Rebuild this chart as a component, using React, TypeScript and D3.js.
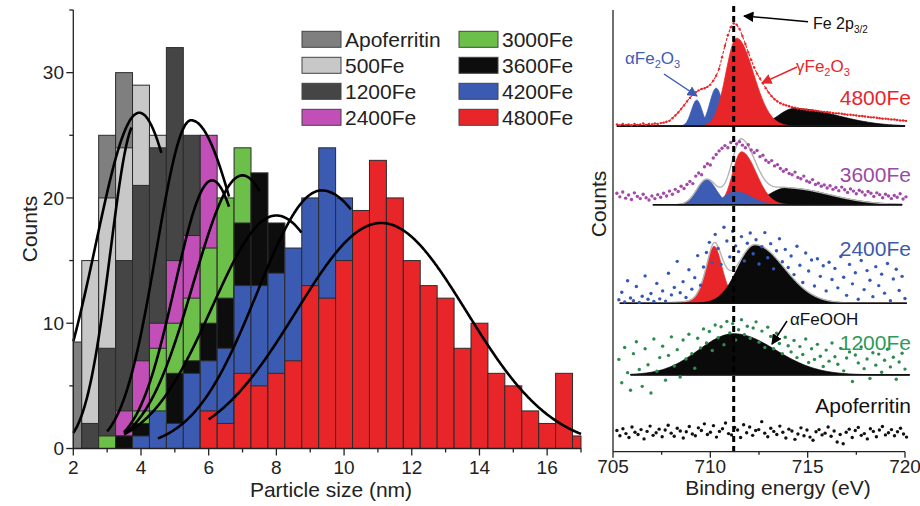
import React from "react";
import * as d3 from "d3";

// ---------------- Histogram data (left panel) ----------------
const binCenters = [2, 2.5, 3, 3.5, 4, 4.5, 5, 5.5, 6, 6.5, 7, 7.5, 8, 8.5, 9, 9.5, 10, 10.5, 11, 11.5, 12, 12.5, 13, 13.5, 14, 14.5, 15, 15.5, 16, 16.5, 17];
const seriesNames = ["Apoferritin", "500Fe", "1200Fe", "2400Fe", "3000Fe", "3600Fe", "4200Fe", "4800Fe"];
const countsApoferritin = [8.5, 12, 25, 30, 26, 18, 10, 4, 0, 0, 0, 0, 0, 0, 0, 0, 0, 0, 0, 0, 0, 0, 0, 0, 0, 0, 0, 0, 0, 0, 0];
const counts500Fe = [0, 15, 20, 24, 29, 25, 14, 6, 2, 0, 0, 0, 0, 0, 0, 0, 0, 0, 0, 0, 0, 0, 0, 0, 0, 0, 0, 0, 0, 0, 0];
const counts1200Fe = [0, 2, 8, 15, 21, 24, 32, 25, 18, 10, 4, 0, 0, 0, 0, 0, 0, 0, 0, 0, 0, 0, 0, 0, 0, 0, 0, 0, 0, 0, 0];
const counts2400Fe = [0, 0, 0, 3, 7, 10, 15, 17, 25, 14, 8, 3, 0, 0, 0, 0, 0, 0, 0, 0, 0, 0, 0, 0, 0, 0, 0, 0, 0, 0, 0];
const counts3000Fe = [0, 0, 1, 1, 3, 8, 10, 12, 16, 20, 24, 15, 8, 3, 0, 0, 0, 0, 0, 0, 0, 0, 0, 0, 0, 0, 0, 0, 0, 0, 0];
const counts3600Fe = [0, 0, 0, 1, 2, 2, 6, 7, 10, 12, 18, 22, 18, 12, 7, 3, 0, 0, 0, 0, 0, 0, 0, 0, 0, 0, 0, 0, 0, 0, 0];
const counts4200Fe = [0, 0, 0, 0, 1, 3, 2, 6, 7, 8, 13, 13, 14, 16, 20, 24, 20, 14, 8, 4, 2, 0, 0, 0, 0, 0, 0, 0, 0, 0, 0];
const counts4800Fe = [0, 0, 0, 0, 0, 0, 0, 0, 3, 2, 6, 5, 6, 7, 13, 12, 15, 19, 23, 20, 15, 13, 12, 8, 10, 6, 5, 3, 2, 6, 1];
const allCounts = [countsApoferritin, counts500Fe, counts1200Fe, counts2400Fe, counts3000Fe, counts3600Fe, counts4200Fe, counts4800Fe];

// Gaussian fits (left / right half-widths)
const fitCenter = [3.95, 3.85, 5.48, 6.1, 7.0, 8.0, 9.34, 11.1];
const fitWidthL = [1.29, 0.75, 1.02, 1.1, 1.45, 1.9, 1.9, 2.52];
const fitWidthR = [1.29, 0.75, 1.54, 1.1, 1.45, 1.9, 2.2, 2.52];
const fitPeak = [26.8, 26.0, 26.2, 21.4, 21.8, 18.6, 20.6, 18.0];
const fitFrom = [2.0, 2.0, 3.0, 3.5, 3.5, 3.5, 4.5, 6.0];
const fitTo = [4.6, 3.72, 6.6, 6.6, 7.5, 8.75, 10.2, 17.0];

const xTicksLeft = [2, 4, 6, 8, 10, 12, 14, 16];
const yTicksLeft = [0, 10, 20, 30];

// ---------------- XPS data (right panel) ----------------
const spectrumNames = ["4800Fe", "3600Fe", "2400Fe", "1200Fe", "Apoferritin"];
const spectrumOffsets = [73.7, 55.9, 33.6, 17.4, 0];
const spectrumRanges = [[705.2, 720.0], [707.05, 719.85], [705.35, 720.1], [705.9, 720.25]];

const comp4800 = [
  { phase: "alpha", center: 709.3, height: 5.9, sigmaL: 0.27, sigmaR: 0.27 },
  { phase: "alpha", center: 710.3, height: 8.6, sigmaL: 0.33, sigmaR: 0.33 },
  { phase: "other", center: 714.3, height: 4.0, sigmaL: 0.8, sigmaR: 2.2 },
  { phase: "gamma", center: 711.35, height: 19.9, sigmaL: 0.55, sigmaR: 0.86 },
];
const comp3600 = [
  { phase: "other", center: 713.9, height: 3.8, sigmaL: 0.9, sigmaR: 2.2 },
  { phase: "gamma", center: 711.6, height: 12.0, sigmaL: 0.45, sigmaR: 0.75 },
  { phase: "alpha", center: 709.8, height: 5.7, sigmaL: 0.5, sigmaR: 0.5 },
  { phase: "alpha", center: 711.3, height: 3.0, sigmaL: 0.6, sigmaR: 0.8 },
];
const comp2400 = [
  { phase: "gamma", center: 710.2, height: 12.9, sigmaL: 0.45, sigmaR: 0.45, eta: 0.35, gamma: 0.45 },
  { phase: "other", center: 712.3, height: 13.1, sigmaL: 0.9, sigmaR: 1.5 },
];
const comp1200 = [
  { phase: "other", center: 711.2, height: 9.3, sigmaL: 1.8, sigmaR: 2.15 },
];
const allComponents = [comp4800, comp3600, comp2400, comp1200];

const dotStep = 0.15;
const dots4800Start = 705.2;
const dots4800 = [0.4, 0.2, 0.5, 0.3, 0.4, 0.2, 0.5, 0.3, 0.4, 0.6, 0.3, 0.5, 0.4, 0.6, 0.5, 0.7, 0.8, 1.0,
  1.2, 1.8, 2.4, 3.1, 3.9, 4.7, 5.6, 6.4, 7.1, 7.7, 8.1, 8.4, 8.6, 8.9, 9.4, 10.3, 11.4, 13.0, 15.6, 18.2,
  20.6, 22.4, 23.3, 23.0, 22.0, 20.4, 18.6, 16.7, 15.0, 13.3, 11.9, 10.8, 9.7, 8.6, 7.6, 6.8, 6.1, 5.6, 5.2, 4.9,
  4.7, 4.5, 4.3, 4.2, 4.0, 3.9, 3.8,
  3.7, 3.6, 3.6, 3.5, 3.4, 3.3, 3.2, 3.2, 3.1, 3.0, 2.9, 2.9, 2.8, 2.7, 2.6, 2.6, 2.5, 2.4, 2.3, 2.3, 2.2, 2.1, 2.0, 2.0, 1.9, 1.8, 1.7, 1.7, 1.6, 1.5, 1.5, 1.4, 1.3, 1.3, 1.2];
const dots3600Start = 705.2;
const dots3600 = [2.6, 1.8, 2.9, 1.5, 2.2, 1.2, 2.7, 1.9, 1.4, 2.4, 1.6, 1.1, 2.0,
  1.4, 2.3, 1.7, 2.6, 2.0, 3.1, 2.4, 3.5, 3.0, 4.2, 3.7, 4.6,
  5.3, 4.8, 6.5, 7.2, 6.8, 8.6, 9.3, 9.0, 10.6, 11.4, 12.2,
  12.8, 13.4, 12.9, 14.1, 14.6, 13.8, 14.3, 13.5, 12.9, 13.6, 12.4,
  11.8, 12.3, 10.9, 11.2, 10.1, 9.6, 10.0, 8.8, 9.1, 8.2, 7.6, 8.0,
  7.1, 6.8, 7.4, 6.2, 5.9, 6.5, 5.4, 5.1, 5.7, 4.6, 4.9, 4.2, 4.5, 3.8,
  4.3, 3.5, 3.9, 3.2, 4.0, 3.4, 2.8, 3.6, 3.1, 2.5, 3.3, 2.9, 2.2, 3.0, 2.6, 1.9, 2.7, 2.3, 1.6, 2.4, 2.0, 1.4, 2.1, 1.7, 2.5, 1.3, 1.8];
const dots2400Start = 705.3;
const dots2400 = [0.8, 2.5, 0.3, 5.1, 1.2, 0.6, 3.8, 0.2, 1.6, 6.2, 0.9, 2.2, 0.4, 4.5, 1.0,
  2.8, 0.5, 6.8, 1.9, 3.6, 9.5, 2.4, 4.9, 1.3, 7.6, 3.2, 5.8, 10.8, 4.1, 8.2,
  11.5, 13.8, 9.2, 15.6, 12.4, 8.8, 17.2, 14.1, 10.5, 16.3, 13.0, 11.7, 15.1, 9.6,
  13.6, 15.9, 11.2, 14.4, 8.9, 12.8, 16.0, 10.3, 13.5, 7.8, 11.9, 14.6, 9.4, 12.2, 8.1,
  10.7, 6.5, 12.9, 8.6, 4.7, 11.4, 7.3, 9.8, 3.9, 10.1, 6.1, 8.5, 2.8, 9.3, 5.4,
  7.9, 3.5, 10.6, 5.9, 1.8, 8.8, 4.4, 6.9, 0.9, 9.7, 3.1, 7.4, 5.2, 1.5, 8.3, 4.0, 6.6, 2.3, 9.0, 0.6, 5.5, 7.7, 2.9, 6.1, 1.1];
const dots1200Start = 705.3;
const dots1200 = [3.5, -1.8, 6.2, 0.5, -3.5, 4.8, 7.5, 1.2, -2.6, 5.9, 2.3, -4.1, 8.1, 0.8, 3.9,
  6.5, -1.2, 4.4, 8.6, 2.0, 5.7, -0.5, 7.9, 3.6, 9.2, 4.8, 1.5, 8.3, 6.1, 10.4,
  7.2, 9.8, 5.5, 11.3, 8.4, 10.9, 6.8, 12.1, 9.5, 11.6, 7.9, 10.2, 12.5, 9.1,
  11.0, 8.3, 10.6, 12.0, 7.4, 9.9, 6.2, 10.8, 8.7, 5.9, 9.4, 7.1, 4.8, 8.5, 6.6,
  5.2, 7.8, 3.9, 6.4, 4.6, 8.1, 2.8, 5.9, 3.5, 6.9, 4.2, 1.9, 5.6, 3.1, 7.2,
  4.1, 2.4, 6.0, 0.9, 3.8, 5.2, -1.5, 4.5, 2.7, 6.3, 1.4, 3.6, -0.8, 5.0, 2.2, 4.7, 0.6, 3.3, 5.8, 1.8, 4.0, -1.0, 2.9, 4.9, 1.3];
const dotsApoStart = 705.2;
const dotsApoStep = 0.155;
const dotsApo = [4.8, 3.6, 5.2, 4.1, 3.2, 5.6, 4.4, 3.9, 5.0, 2.9, 4.6, 5.8, 3.7, 4.3, 5.1, 3.4, 4.9, 6.0, 4.2, 3.5,
  5.3, 4.7, 3.1, 4.5, 5.7, 4.0, 3.6, 5.4, 4.8, 6.3, 3.9, 4.4, 5.9, 3.3, 4.6, 5.2, 6.5, 4.1, 3.8, 5.5,
  4.9, 3.2, 6.1, 4.3, 5.6, 3.7, 4.8, 5.0, 6.8, 4.2, 3.4, 5.3, 4.6, 3.9, 5.8, 4.4, 3.1, 5.1, 4.7, 2.8,
  4.0, 5.4, 3.6, 4.9, 3.3, 2.6, 4.5, 5.0, 3.8, 4.2, 5.6, 3.5, 4.7, 2.2, 3.9, 1.8, 4.4, 5.1, 3.2, 4.8,
  5.5, 3.7, 4.1, 2.9, 5.2, 4.6, 3.4, 4.9, 5.7, 3.8, 4.3, 5.0, 3.6, 4.5, 5.3, 4.0, 3.3];

const fe2pEnergy = 711.2;
const xTicksRight = [705, 710, 715, 720];

// ---------------- styles ----------------
const FONT = "'Liberation Sans', Arial, Helvetica, sans-serif";
const seriesColors = ["#7f7f7f", "#c8c8c8", "#454545", "#c24fb8", "#6cc04a", "#0d0d0d", "#3a5bb1", "#e8262a"];
const phaseColors: Record<string, string> = { alpha: "#3d5cb4", gamma: "#e8262a", other: "#0a0a0a" };
const labelColors = ["#e8262a", "#9a4aa6", "#3d59a8", "#2f9a58", "#111"];
const dotColors = ["#e8262a", "#a24aa8", "#3558b8", "#2e8b4f", "#111"];

function compValue(e: number, c: any) {
  const d = e - c.center;
  const s = d < 0 ? c.sigmaL : c.sigmaR;
  const g = Math.exp(-(d * d) / (2 * s * s));
  const eta = c.eta || 0;
  const l = eta ? 1 / (1 + (d / c.gamma) ** 2) : 0;
  return c.height * (eta * l + (1 - eta) * g);
}

export default function App() {
  const xL = d3.scaleLinear().domain([2, 17]).range([73.3, 581]);
  const yL = d3.scaleLinear().domain([0, 35]).range([448.5, 10]);
  const xR = d3.scaleLinear().domain([705, 720]).range([613, 905]);
  const yR = d3.scaleLinear().domain([0, 100]).range([451.7, 10]);

  const fitLine = d3.line<number[]>().x((d) => xL(d[0])).y((d) => yL(d[1])).curve(d3.curveBasis);

  const bars: JSX.Element[] = [];
  allCounts.forEach((arr, si) => {
    arr.forEach((v, bi) => {
      if (v <= 0) return;
      const c = binCenters[bi];
      const x0 = Math.max(2, c - 0.25);
      const x1 = Math.min(17, c + 0.25);
      bars.push(
        <rect key={`b${si}-${bi}`} x={xL(x0)} y={yL(v)} width={xL(x1) - xL(x0)} height={yL(0) - yL(v)}
          fill={seriesColors[si]} stroke="#2b2b2b" strokeWidth={1} />
      );
    });
  });

  const fits = fitCenter.map((mu, i) => {
    const pts = d3.range(fitFrom[i], fitTo[i] + 1e-9, 0.02).map((x) => {
      const s = x < mu ? fitWidthL[i] : fitWidthR[i];
      return [x, fitPeak[i] * Math.exp(-((x - mu) ** 2) / (2 * s * s))];
    });
    return <path key={`f${i}`} d={fitLine(pts) || ""} fill="none" stroke="#000" strokeWidth={2.6} />;
  });

  // right panel shapes
  const compPaths: JSX.Element[] = [];
  const envelopes: JSX.Element[] = [];
  allComponents.forEach((comps, si) => {
    const base = spectrumOffsets[si];
    const [a, b] = spectrumRanges[si];
    const grid = d3.range(a, b + 1e-9, 0.04);
    comps.forEach((c, ci) => {
      const area = d3.area<number>().x((e) => xR(e)).y0(yR(base)).y1((e) => yR(base + compValue(e, c)));
      compPaths.push(
        <path key={`c${si}-${ci}`} d={area(grid) || ""} fill={phaseColors[c.phase]} stroke={c.phase === "other" ? "#000" : phaseColors[c.phase]} strokeWidth={0.8} />
      );
    });
    if (si === 1 || si === 2) {
      const env = d3.line<number>().x((e) => xR(e)).y((e) => yR(base + d3.sum(comps, (c) => compValue(e, c))));
      envelopes.push(<path key={`env${si}`} d={env(grid) || ""} fill="none" stroke="#b4b4b4" strokeWidth={1.4} />);
    }
    envelopes.push(
      <line key={`bl${si}`} x1={xR(a)} x2={xR(b)} y1={yR(base)} y2={yR(base)} stroke="#111" strokeWidth={1.6} />
    );
  });

  const dotSets = [
    { start: dots4800Start, step: dotStep, vals: dots4800, off: spectrumOffsets[0] },
    { start: dots3600Start, step: dotStep, vals: dots3600, off: spectrumOffsets[1] },
    { start: dots2400Start, step: dotStep, vals: dots2400, off: spectrumOffsets[2] },
    { start: dots1200Start, step: dotStep, vals: dots1200, off: spectrumOffsets[3] },
    { start: dotsApoStart, step: dotsApoStep, vals: dotsApo, off: spectrumOffsets[4] },
  ];
  const dotEls: JSX.Element[] = [];
  dotSets.forEach((s, si) => {
    if (si === 0) {
      const ln = d3.line<number>().x((_, i) => xR(s.start + i * s.step)).y((v) => yR(s.off + v));
      dotEls.push(<path key="redline" d={ln(s.vals) || ""} fill="none" stroke="#e8262a" strokeWidth={1.1} strokeDasharray="3,1.5" />);
    }
    s.vals.forEach((v, i) => {
      dotEls.push(
        <circle key={`d${si}-${i}`} cx={xR(s.start + i * s.step)} cy={yR(s.off + v)} r={si === 0 ? 1.2 : 1.7} fill={dotColors[si]} />
      );
    });
  });

  const labelY = [105, 182, 256, 350, 413];

  return (
    <svg width={920} height={506} style={{ position: "absolute", left: 0, top: 0, background: "#fff" }} fontFamily={FONT}>
      <defs>
        <marker id="arrK" viewBox="0 0 10 10" refX="9" refY="5" markerWidth="7" markerHeight="7" orient="auto">
          <path d="M0,0 L10,5 L0,10 z" fill="#000" />
        </marker>
        <marker id="arrB" viewBox="0 0 10 10" refX="9" refY="5" markerWidth="7" markerHeight="7" orient="auto">
          <path d="M0,0 L10,5 L0,10 z" fill="#3d5cb4" />
        </marker>
        <marker id="arrR" viewBox="0 0 10 10" refX="9" refY="5" markerWidth="7" markerHeight="7" orient="auto">
          <path d="M0,0 L10,5 L0,10 z" fill="#e8262a" />
        </marker>
      </defs>
      <rect x={0} y={0} width={920} height={506} fill="#fff" />

      {/* ---------- left panel ---------- */}
      {bars}
      {fits}
      <line x1={xL(2)} x2={xL(2)} y1={yL(35)} y2={yL(0)} stroke="#222" strokeWidth={1.3} />
      <line x1={xL(2)} x2={xL(17)} y1={yL(0)} y2={yL(0)} stroke="#222" strokeWidth={1.3} />
      {d3.range(0, 36, 5).map((t) => (
        <line key={`yt${t}`} x1={xL(2) - (t % 10 === 0 ? 7 : 4)} x2={xL(2)} y1={yL(t)} y2={yL(t)} stroke="#222" strokeWidth={1.3} />
      ))}
      {yTicksLeft.map((t) => (
        <text key={`yl${t}`} x={64} y={yL(t)} dy="0.35em" textAnchor="end" fontSize={19} fill="#222">{t}</text>
      ))}
      {d3.range(2, 18, 1).map((t) => (
        <line key={`xt${t}`} x1={xL(t)} x2={xL(t)} y1={yL(0)} y2={yL(0) + (t % 2 === 0 ? 7 : 4)} stroke="#222" strokeWidth={1.3} />
      ))}
      {xTicksLeft.map((t) => (
        <text key={`xl${t}`} x={xL(t)} y={474} textAnchor="middle" fontSize={19} fill="#222">{t}</text>
      ))}
      <text x={331} y={497} textAnchor="middle" fontSize={21} fill="#222">Particle size (nm)</text>
      <text transform="translate(37,229) rotate(-90)" textAnchor="middle" fontSize={21} fill="#222">Counts</text>

      {/* legend */}
      {seriesNames.map((n, i) => {
        const col = i < 4 ? 0 : 1;
        const row = i % 4;
        const lx = col === 0 ? 302 : 459;
        const cy = 39.3 + row * 26;
        return (
          <g key={`lg${i}`}>
            <rect x={lx} y={cy - 8} width={39} height={16} fill={seriesColors[i]} stroke="#444" strokeWidth={1} />
            <text x={lx + 43} y={cy} dy="0.36em" fontSize={21} fill="#222">{n}</text>
          </g>
        );
      })}

      {/* ---------- right panel ---------- */}
      <rect x={588} y={0} width={332} height={506} fill="#fff" />
      {compPaths}
      {envelopes}
      {dotEls}
      <line x1={xR(fe2pEnergy)} x2={xR(fe2pEnergy)} y1={6} y2={yR(0)} stroke="#000" strokeWidth={3} strokeDasharray="6,4" />
      <line x1={xR(705)} x2={xR(705)} y1={10} y2={yR(0)} stroke="#222" strokeWidth={1.3} />
      <line x1={xR(705)} x2={xR(720)} y1={yR(0)} y2={yR(0)} stroke="#222" strokeWidth={1.3} />
      {d3.range(705, 720.1, 2.5).map((t) => (
        <line key={`rt${t}`} x1={xR(t)} x2={xR(t)} y1={yR(0)} y2={yR(0) + (t % 5 === 0 ? 6 : 3)} stroke="#222" strokeWidth={1.3} />
      ))}
      {xTicksRight.map((t) => (
        <text key={`rl${t}`} x={xR(t)} y={473} textAnchor="middle" fontSize={19} fill="#222">{t}</text>
      ))}
      <text x={778} y={495} textAnchor="middle" fontSize={21} fill="#222">Binding energy (eV)</text>
      <text transform="translate(606,204) rotate(-90)" textAnchor="middle" fontSize={21} fill="#222">Counts</text>

      {spectrumNames.map((n, i) => (
        <text key={`sn${i}`} x={911} y={labelY[i]} textAnchor="end" fontSize={21} fill={labelColors[i]}>{n}</text>
      ))}

      {/* annotations */}
      <line x1={808} y1={21.7} x2={744} y2={16} stroke="#000" strokeWidth={1.5} markerEnd="url(#arrK)" />
      <text x={813} y={29} fontSize={16} fill="#111">Fe 2p<tspan fontSize={10} dy={4}>3/2</tspan></text>

      <text x={625} y={64} fontSize={17} fill="#3d5cb4">αFe<tspan fontSize={11} dy={4}>2</tspan><tspan dy={-4}>O</tspan><tspan fontSize={11} dy={4}>3</tspan></text>
      <line x1={664} y1={74} x2={697} y2={96} stroke="#3d5cb4" strokeWidth={1.5} markerEnd="url(#arrB)" />

      <text x={796} y={72} fontSize={17} fill="#e8262a">γFe<tspan fontSize={11} dy={4}>2</tspan><tspan dy={-4}>O</tspan><tspan fontSize={11} dy={4}>3</tspan></text>
      <line x1={797} y1={67} x2={762} y2={83} stroke="#e8262a" strokeWidth={1.5} markerEnd="url(#arrR)" />

      <text x={790} y={325} fontSize={17} fill="#111">αFeOOH</text>
      <line x1={787} y1={321} x2={772} y2={344} stroke="#000" strokeWidth={1.5} markerEnd="url(#arrK)" />
    </svg>
  );
}
